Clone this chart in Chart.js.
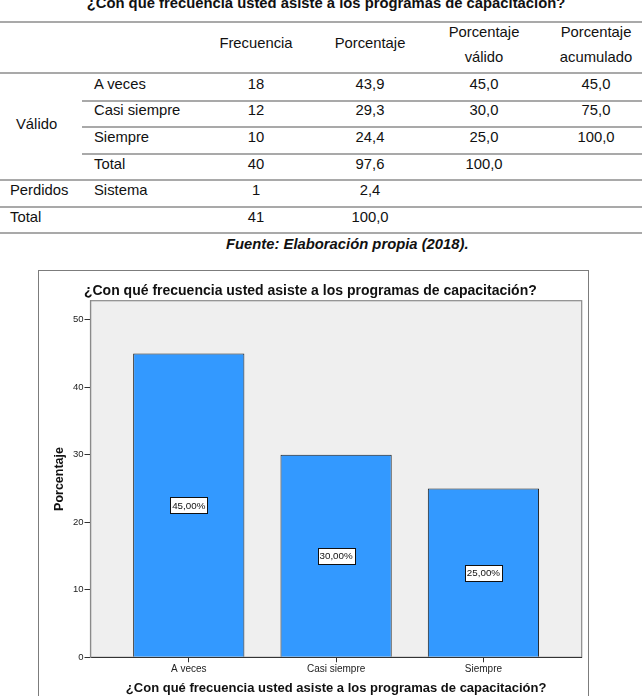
<!DOCTYPE html>
<html>
<head>
<meta charset="utf-8">
<script src="https://cdn.jsdelivr.net/npm/chart.js@4/dist/chart.umd.min.js"></script>
<style>
  html, body { margin:0; padding:0; background:#fff; }
  body { width:642px; height:696px; overflow:hidden; position:relative;
         font-family:"Liberation Sans", Arial, sans-serif; color:#111; }
  .t { position:absolute; line-height:20px; font-size:14.8px; white-space:nowrap; }
  .c { width:200px; text-align:center; }
  .hl { position:absolute; height:2px; background:#a9a9a9; }
  #frame { position:absolute; left:38px; top:270px; width:549px; height:440px;
           border:1px solid #7c7c7c; background:#fff; }
  #chart { position:absolute; left:0; top:0; }
</style>
</head>
<body>
<div id="tbl"></div>
<div id="frame"><canvas id="chart" width="549" height="425"></canvas></div>
<script>
// ---------- data ----------
const titulo = '¿Con qué frecuencia usted asiste a los programas de capacitación?';
const categories = ['A veces', 'Casi siempre', 'Siempre'];
const frecuencia = [18, 12, 10];
const porcentaje = [43.9, 29.3, 24.4];
const porcentajeValido = [45.0, 30.0, 25.0];
const porcentajeAcumulado = [45.0, 75.0, 100.0];
const totalValido = { frecuencia: 40, porcentaje: 97.6, valido: 100.0 };
const perdidos = { label: 'Sistema', frecuencia: 1, porcentaje: 2.4 };
const totalGeneral = { frecuencia: 41, porcentaje: 100.0 };
const yTicks = [0, 10, 20, 30, 40, 50];
const fuente = 'Fuente: Elaboración propia (2018).';

const fmt1 = v => v.toFixed(1).replace('.', ',');
const fmt2 = v => v.toFixed(2).replace('.', ',') + '%';

// ---------- table ----------
const tbl = document.getElementById('tbl');
function txt(x, y, s, align, extra) {
  const d = document.createElement('div');
  d.className = 't' + (align === 'c' ? ' c' : '');
  d.textContent = s;
  d.style.left = (align === 'c' ? x - 100 : x) + 'px';
  d.style.top = (y - 10) + 'px';
  if (extra) Object.assign(d.style, extra);
  tbl.appendChild(d);
}
function line(y, x0, x1) {
  const d = document.createElement('div');
  d.className = 'hl';
  d.style.left = x0 + 'px'; d.style.width = (x1 - x0) + 'px'; d.style.top = (y - 1) + 'px';
  tbl.appendChild(d);
}
const colX = [256, 370, 484, 596];
txt(326, 3.2, titulo, 'c', { fontWeight:'bold', width:'600px', left:'26px' });
line(21.7, 0, 642); line(73.3, 0, 642);
line(100.5, 82, 642); line(127, 82, 642); line(153.5, 82, 642);
line(180, 0, 642); line(206.7, 0, 642); line(233.3, 0, 642);
txt(colX[0], 43.3, 'Frecuencia', 'c');
txt(colX[1], 43.3, 'Porcentaje', 'c');
txt(colX[2], 31.7, 'Porcentaje', 'c'); txt(colX[2], 57.3, 'válido', 'c');
txt(colX[3], 31.7, 'Porcentaje', 'c'); txt(colX[3], 57.3, 'acumulado', 'c');
const rowY = [83.7, 110.4, 137.0, 163.7, 190.3, 217.0];
categories.forEach((c, i) => {
  txt(94, rowY[i], c);
  txt(colX[0], rowY[i], String(frecuencia[i]), 'c');
  txt(colX[1], rowY[i], fmt1(porcentaje[i]), 'c');
  txt(colX[2], rowY[i], fmt1(porcentajeValido[i]), 'c');
  txt(colX[3], rowY[i], fmt1(porcentajeAcumulado[i]), 'c');
});
txt(94, rowY[3], 'Total');
txt(colX[0], rowY[3], String(totalValido.frecuencia), 'c');
txt(colX[1], rowY[3], fmt1(totalValido.porcentaje), 'c');
txt(colX[2], rowY[3], fmt1(totalValido.valido), 'c');
txt(16, 123.7, 'Válido');
txt(10, rowY[4], 'Perdidos');
txt(94, rowY[4], perdidos.label);
txt(colX[0], rowY[4], String(perdidos.frecuencia), 'c');
txt(colX[1], rowY[4], fmt1(perdidos.porcentaje), 'c');
txt(10, rowY[5], 'Total');
txt(colX[0], rowY[5], String(totalGeneral.frecuencia), 'c');
txt(colX[1], rowY[5], fmt1(totalGeneral.porcentaje), 'c');
txt(326, 244, fuente, 'c', { fontWeight:'bold', fontStyle:'italic' });

// ---------- chart ----------
const FAM = '"Liberation Sans", Arial, sans-serif';

const bgPlugin = {
  id: 'plotBg',
  beforeDraw(chart) {
    const { ctx, chartArea: a } = chart;
    ctx.save();
    ctx.fillStyle = '#efefef';
    ctx.fillRect(a.left, a.top, a.right - a.left, a.bottom - a.top);
    ctx.strokeStyle = '#8a8a8a';
    ctx.lineWidth = 1.2;
    ctx.strokeRect(a.left, a.top, a.right - a.left, a.bottom - a.top);
    ctx.restore();
  }
};

const labelPlugin = {
  id: 'barLabels',
  afterDatasetsDraw(chart) {
    const { ctx } = chart;
    const xs = chart.scales.x, ys = chart.scales.y;
    ctx.save();
    ctx.font = '9.8px ' + FAM;
    ctx.textAlign = 'center';
    ctx.textBaseline = 'middle';
    porcentajeValido.forEach((v, i) => {
      const x = xs.getPixelForValue(i);
      const y = ys.getPixelForValue(v / 2);
      const s = fmt2(v);
      const w = Math.round(ctx.measureText(s).width + 4);
      const h = 16;
      const bx = Math.round(x - w / 2) + 0.5, by = Math.round(y - h / 2) + 0.5;
      ctx.fillStyle = '#fff';
      ctx.fillRect(bx, by, w, h);
      ctx.strokeStyle = '#111';
      ctx.lineWidth = 1;
      ctx.strokeRect(bx, by, w, h);
      ctx.fillStyle = '#111';
      ctx.fillText(s, x, y + 0.5);
    });
    ctx.restore();
  }
};

new Chart(document.getElementById('chart').getContext('2d'), {
  type: 'bar',
  data: {
    datasets: [{
      data: categories.map((c, i) => ({ x: i, y: porcentajeValido[i] })),
      backgroundColor: '#3399ff',
      borderColor: '#1e1e1e',
      borderWidth: 1,
      barPercentage: 0.755,
      categoryPercentage: 1
    }]
  },
  options: {
    responsive: false,
    animation: false,
    devicePixelRatio: 1,
    layout: { padding: { left: 0, right: 6.3, top: 0, bottom: 0 } },
    plugins: {
      legend: { display: false },
      tooltip: { enabled: false },
      title: {
        display: true, text: titulo, color: '#111',
        font: { family: FAM, size: 14, weight: 'bold', lineHeight: 1.2 },
        padding: { top: 11.3, bottom: 1.6 }
      }
    },
    scales: {
      x: {
        type: 'linear', min: -0.667, max: 2.667, offset: false,
        afterBuildTicks: s => { s.ticks = categories.map((c, i) => ({ value: i })); },
        afterFit: s => { s.height = 38.7; },
        grid: { display: true, offset: false, drawOnChartArea: false, drawTicks: true, tickLength: 5, tickColor: '#333', lineWidth: 1 },
        border: { display: true, color: '#333', width: 1 },
        ticks: { callback: v => categories[v], font: { family: FAM, size: 10 }, color: '#222', padding: 1.2, maxRotation: 0, autoSkip: false },
        title: { display: true, text: titulo, color: '#111', font: { family: FAM, size: 13, weight: 'bold', lineHeight: 1.15 }, padding: { top: 0, bottom: 0 } }
      },
      y: {
        min: 0, max: 52.8,
        afterBuildTicks: s => { s.ticks = yTicks.map(v => ({ value: v })); },
        afterFit: s => { s.width = 51.5; },
        grid: { display: true, drawOnChartArea: false, drawTicks: true, tickLength: 6, tickColor: '#333' },
        border: { display: true, color: '#8a8a8a', width: 1.2 },
        ticks: { font: { family: FAM, size: 9.5 }, color: '#222', padding: 1 },
        title: { display: true, text: 'Porcentaje', color: '#111', font: { family: FAM, size: 12.5, weight: 'bold', lineHeight: 1.2 }, padding: { top: 12.8, bottom: 0 } }
      }
    }
  },
  plugins: [bgPlugin, labelPlugin]
});
</script>
</body>
</html>
